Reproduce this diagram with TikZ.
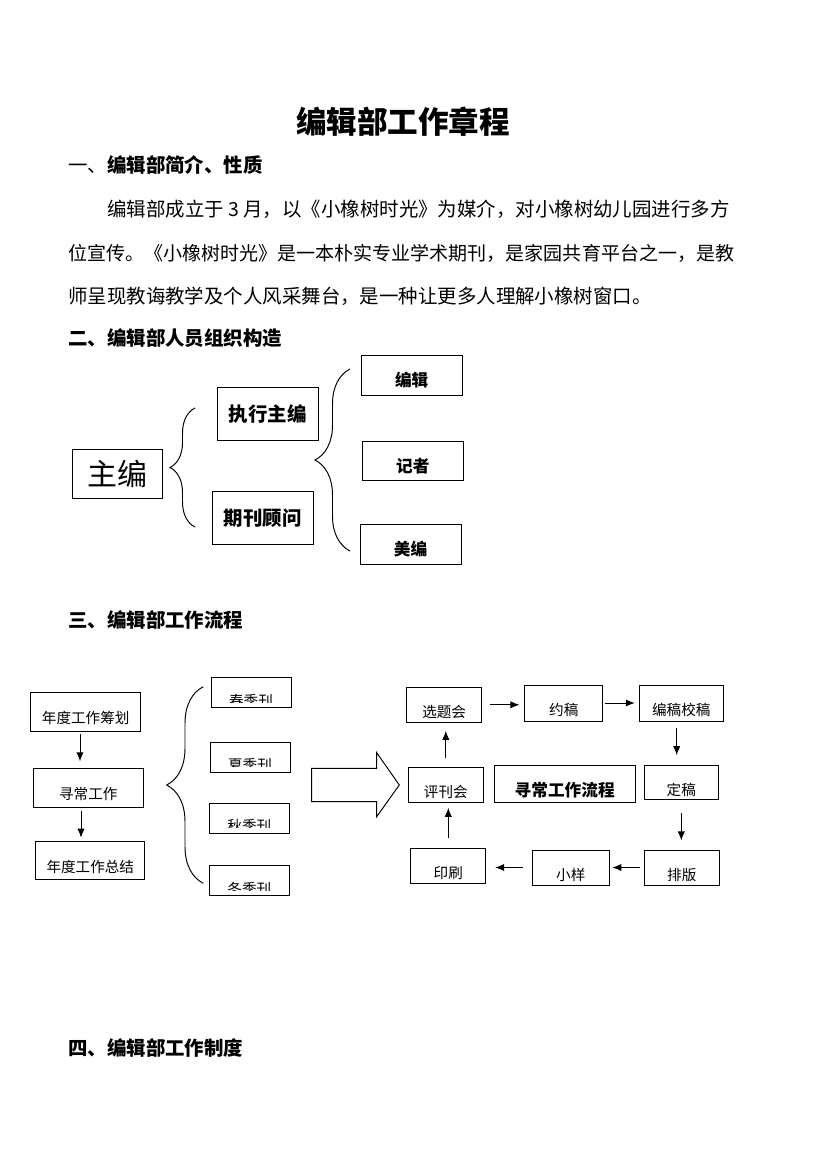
\documentclass[tikz,border=0pt]{standalone}
\usepackage{fontspec}
\setmainfont{Noto Sans CJK SC}
\usetikzlibrary{decorations.pathreplacing, arrows.meta}
\newcommand{\pxu}{0.72pt}% un pixel de la pagina
\tikzset{
	box/.style 2 args={draw, line width=0.7pt, inner sep=0pt, minimum width=#1*\pxu, minimum height=#2*\pxu},
	low/.style={text depth=0pt, text height=#1},
	small/.style={font=\fontsize{10.5}{12}\selectfont},
	orgtext/.style={font=\fontsize{12}{14}\selectfont\bfseries},
	headline/.style={anchor=west, inner sep=0pt, font=\fontsize{14}{16}\selectfont\bfseries},
	para/.style={anchor=west, inner sep=0pt, font=\fontsize{14}{16}\selectfont},
	flow/.style={-{Latex[length=6.5pt,width=5.2pt]}, line width=0.7pt},
	curly/.style={decorate, decoration={brace, amplitude=#1*\pxu}, line width=0.7pt},
	season/.style={box={80}{30}, path picture={
		\clip ([yshift=5.5*\pxu]path picture bounding box.south west) rectangle (path picture bounding box.north east);
		\node [small, draw=none, inner sep=0pt, minimum width=0pt, minimum height=0pt]
			at ([yshift=-8*\pxu]path picture bounding box.center) {#1};}}
}

\begin{document}
\begin{tikzpicture}[x=0.72pt, y=-0.72pt]
\useasboundingbox (0,0) rectangle (826,1169);

% Titol i text
\node [font=\fontsize{22}{24}\selectfont\bfseries] (Title) at (403,122) {编辑部工作章程};
\node [headline] (H1) at (68,165) {\mdseries 一、\bfseries 编辑部简介、性质};
\node [para] (P1) at (107,209) {编辑部成立于 3 月，以《小橡树时光》为媒介，对小橡树幼儿园进行多方};
\node [para, font=\fontsize{13.7}{16}\selectfont] (P2) at (68,253) {位宣传。《小橡树时光》是一本朴实专业学术期刊，是家园共育平台之一，是教};
\node [para] (P3) at (68,296) {师呈现教诲教学及个人风采舞台，是一种让更多人理解小橡树窗口。};
\node [headline] (H2) at (68,338) {二、编辑部人员组织构造};
%%%%%%%%%%%%%%%%%%%%%%%%%%%%%%%%%%%%%%%%%%%%%%%%%%%%%%%%%%%%%%%%%%%%%%%%%%%%%%%%
% Organitzacio
\node [box={90}{49}, font=\fontsize{21.6}{24}\selectfont] (Chief) at (117.3,473.8) {主编};
\node [box={101}{52.7}, font=\fontsize{14}{16}\selectfont\bfseries] (Exec) at (267.8,413.7) {执行主编};
\node [box={101}{52.6}, font=\fontsize{14}{16}\selectfont\bfseries] (Advisor) at (262.8,518) {期刊顾问};
\node [box={101.3}{40.3}, orgtext, low=16.3pt] (Editor) at (411.7,375.2) {编辑};
\node [box={101}{38.6}, orgtext, low=16.3pt] (Reporter) at (412.8,461) {记者};
\node [box={101}{40}, orgtext, low=16.3pt] (Artist) at (410.5,544.3) {美编};

\draw [curly=25] (195,527) -- (195,408);
\draw [curly=35] (350,551) -- (350,369);

\node [headline] (H3) at (68,620) {三、编辑部工作流程};
%%%%%%%%%%%%%%%%%%%%%%%%%%%%%%%%%%%%%%%%%%%%%%%%%%%%%%%%%%%%%%%%%%%%%%%%%%%%%%%%
% Flux anual
\node [box={110}{38.7}, small, low=17pt] (Plan) at (85.7,711.7) {年度工作筹划};
\node [box={110}{39}, small, low=17pt] (Daily) at (88.3,787.8) {寻常工作};
\node [box={109.3}{38.3}, small, low=17pt] (Summary) at (90.3,860.8) {年度工作总结};

\draw [flow, shorten <=2*\pxu, shorten >=6.5*\pxu] ([xshift=-5.7*\pxu]Plan.south) -- ([xshift=-5.7*\pxu]Plan.south |- Daily.north);
\draw [flow, shorten <=3*\pxu, shorten >=3.5*\pxu] ([xshift=-7.3*\pxu]Daily.south) -- ([xshift=-7.3*\pxu]Daily.south |- Summary.north);

\draw [curly=36.6] (203.3,883.3) -- (203.3,686.7);

\node [season=春季刊] (Spring) at (251,692.5) {};
\node [season=夏季刊] (Summer) at (250,757.3) {};
\node [season=秋季刊] (Autumn) at (249.3,818.3) {};
\node [season=冬季刊] (Winter) at (249.3,880.7) {};

% fletxa gran
\draw [line width=0.7pt] (311.7,768.3) -- (376.7,768.3) -- (376.7,752.7) -- (399.3,785)
	-- (376.7,816.7) -- (376.7,801.7) -- (311.7,801.7) -- cycle;
%%%%%%%%%%%%%%%%%%%%%%%%%%%%%%%%%%%%%%%%%%%%%%%%%%%%%%%%%%%%%%%%%%%%%%%%%%%%%%%%
% Cicle de treball
\node [box={75}{35}, small, low=18pt] (Topic) at (444.2,704.8) {选题会};
\node [box={77.7}{36}, small, low=18pt] (Invite) at (563.8,703) {约稿};
\node [box={84}{36}, small, low=18pt] (Edit) at (681.3,703) {编稿校稿};
\node [box={75}{35}, small, low=18pt] (Review) at (445.8,784.8) {评刊会};
\node [box={140.7}{36.6}, font=\fontsize{12}{14}\selectfont\bfseries, low=17.7pt] (Flow) at (564.7,784) {寻常工作流程};
\node [box={74}{34.3}, small, low=18pt] (Final) at (681.3,782.8) {定稿};
\node [box={74.7}{35}, small, low=18pt] (Print) at (448.3,865.8) {印刷};
\node [box={77}{35}, small, low=18pt] (Proof) at (570.8,867.5) {小样};
\node [box={75}{35}, small, low=18pt] (Layout) at (681.8,867.5) {排版};

\draw [flow, shorten <=8*\pxu, shorten >=5*\pxu] (Topic.east) -- (Topic.east -| Invite.west);
\draw [flow, shorten <=2*\pxu, shorten >=4*\pxu] (Invite.east) -- (Invite.east -| Edit.west);
\draw [flow, shorten <=7*\pxu, shorten >=10*\pxu] ([xshift=-4.6*\pxu]Edit.south) -- ([xshift=-4.6*\pxu]Edit.south |- Final.north);
\draw [flow, shorten <=13*\pxu, shorten >=9*\pxu] (Final.south) -- (Final.south |- Layout.north);
\draw [flow, shorten <=4*\pxu, shorten >=2.5*\pxu] (Layout.west) -- (Layout.west -| Proof.east);
\draw [flow, shorten <=9*\pxu, shorten >=9*\pxu] (Proof.west) -- (Proof.west -| Print.east);
\draw [flow, shorten <=10*\pxu, shorten >=5*\pxu] (Print.north) -- (Print.north |- Review.south);
\draw [flow, shorten <=9*\pxu, shorten >=8*\pxu] (Review.north) -- (Review.north |- Topic.south);

\node [headline] (H4) at (68,1048) {四、编辑部工作制度};
\end{tikzpicture}
\end{document}
